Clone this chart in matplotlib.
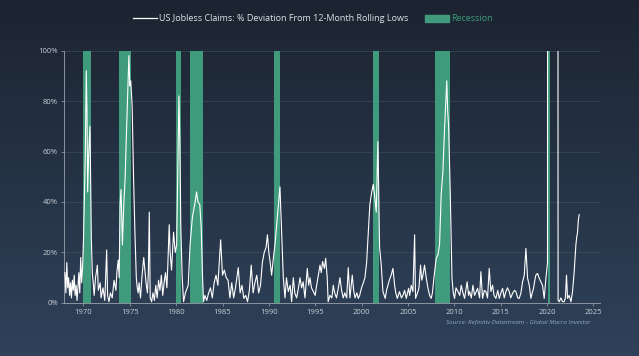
import numpy as np
import matplotlib.pyplot as plt
from matplotlib.colors import LinearSegmentedColormap
from matplotlib.lines import Line2D
from matplotlib.patches import Patch
from matplotlib.ticker import FuncFormatter

# claims deviation from 12m rolling low, %
years = [
    1968.0, 1968.1, 1968.2, 1968.3, 1968.4, 1968.5, 1968.6, 1968.7, 1968.8, 1968.9,
    1969.0, 1969.1, 1969.2, 1969.3, 1969.4, 1969.5, 1969.6, 1969.7, 1969.8, 1969.9,
    1970.0, 1970.1, 1970.2, 1970.3, 1970.38, 1970.45, 1970.55, 1970.7, 1970.78, 1970.85, 1970.95,
    1971.05, 1971.15, 1971.3, 1971.5, 1971.6, 1971.8, 1971.9, 1972.1, 1972.3, 1972.5,
    1972.6, 1972.75, 1972.9, 1973.1, 1973.3, 1973.5, 1973.6, 1973.75, 1973.85,
    1973.95, 1974.05, 1974.2, 1974.35, 1974.5, 1974.6, 1974.75, 1974.9, 1975.0, 1975.1,
    1975.25, 1975.4, 1975.55, 1975.7, 1975.8, 1975.9, 1976.0, 1976.15, 1976.3, 1976.5,
    1976.6, 1976.75, 1976.9, 1977.0, 1977.1, 1977.2, 1977.35, 1977.5, 1977.65, 1977.8,
    1977.95, 1978.1, 1978.25, 1978.4, 1978.55, 1978.7, 1978.85, 1979.0, 1979.1, 1979.25,
    1979.35, 1979.5, 1979.6, 1979.72, 1979.9, 1980.05, 1980.15, 1980.3, 1980.4, 1980.5,
    1980.65, 1980.8, 1981.0, 1981.3, 1981.5, 1981.75, 1982.05, 1982.2, 1982.35, 1982.55,
    1982.7, 1982.85, 1982.95, 1983.1, 1983.3, 1983.5, 1983.7, 1983.9, 1984.1, 1984.3,
    1984.5, 1984.8, 1985.0, 1985.2, 1985.4, 1985.6, 1985.8, 1986.0, 1986.2, 1986.4,
    1986.7, 1986.9, 1987.1, 1987.3, 1987.5, 1987.7, 1987.9, 1988.1, 1988.3, 1988.5,
    1988.7, 1988.9, 1989.1, 1989.3, 1989.5, 1989.7, 1989.85, 1990.0, 1990.15, 1990.3,
    1990.5, 1990.66, 1990.9, 1991.2, 1991.38, 1991.56, 1991.74, 1991.9, 1992.1, 1992.3,
    1992.46, 1992.64, 1992.8, 1993.0, 1993.2, 1993.36, 1993.54, 1993.7, 1993.9, 1994.15,
    1994.3, 1994.44, 1994.6, 1994.8, 1995.0, 1995.16, 1995.34, 1995.52, 1995.65, 1995.8,
    1996.0, 1996.13, 1996.3, 1996.4, 1996.6, 1996.8, 1996.95, 1997.1, 1997.3, 1997.5,
    1997.67, 1997.85, 1998.03, 1998.2, 1998.4, 1998.57, 1998.75, 1999.0, 1999.15, 1999.3,
    1999.5, 1999.65, 1999.8, 2000.0, 2000.2, 2000.37, 2000.55, 2000.73, 2000.9, 2001.1,
    2001.27, 2001.4, 2001.59, 2001.77, 2001.95, 2002.13, 2002.31, 2002.45, 2002.56, 2002.7,
    2002.85, 2003.0, 2003.2, 2003.39, 2003.57, 2003.7, 2003.86, 2004.1, 2004.3, 2004.47,
    2004.65, 2004.83, 2005.08, 2005.2, 2005.37, 2005.55, 2005.73, 2005.83, 2006.09, 2006.2,
    2006.37, 2006.5, 2006.63, 2006.8, 2006.99, 2007.17, 2007.35, 2007.52, 2007.65, 2007.81,
    2008.06, 2008.24, 2008.42, 2008.6, 2008.78, 2008.96, 2009.1, 2009.2, 2009.3, 2009.4,
    2009.58, 2009.76, 2009.9, 2010.04, 2010.2, 2010.4, 2010.6, 2010.76, 2010.95, 2011.12,
    2011.25, 2011.4, 2011.55, 2011.66, 2011.85, 2012.02, 2012.2, 2012.38, 2012.52, 2012.74,
    2012.88, 2013.06, 2013.25, 2013.42, 2013.6, 2013.78, 2013.96, 2014.14, 2014.3, 2014.5,
    2014.7, 2014.86, 2015.05, 2015.22, 2015.4, 2015.58, 2015.75, 2015.94, 2016.1, 2016.3,
    2016.5, 2016.66, 2016.85, 2017.02, 2017.2, 2017.38, 2017.56, 2017.74, 2017.92, 2018.1,
    2018.28, 2018.42, 2018.56, 2018.7, 2018.81, 2019.0, 2019.17, 2019.35, 2019.53, 2019.71,
    2019.9, 2020.07, 2020.2, 2020.3, 2020.5, 2020.75, 2021.0, 2021.19, 2021.21, 2021.35,
    2021.5, 2021.7, 2021.87, 2022.0, 2022.12, 2022.23, 2022.4, 2022.6, 2022.77, 2022.95,
    2023.05, 2023.13, 2023.22, 2023.31, 2023.4, 2023.49,
]
values = [
    12, 4, 16, 6, 10, 3, 8, 2, 9, 5,
    11, 3, 7, 1, 6, 12, 4, 18, 8, 14,
    25, 42, 60, 92, 75, 44, 58, 70, 45, 25, 12,
    8, 3, 10, 15, 5, 8, 2, 6, 1, 21,
    3, 0.5, 4, 2, 9, 5, 12, 17, 10,
    39, 45, 23, 39, 50, 63, 80, 98, 86, 88,
    78, 50, 28, 10, 6, 4, 8, 2, 10, 18,
    14, 8, 4, 12, 36, 2, 0.5, 4, 1, 7,
    2, 9, 5, 11, 3, 8, 12, 6, 15, 31,
    20, 13, 20, 28, 20, 23, 47, 82, 63, 30,
    10, 0.5, 4, 7, 23, 34, 40, 44, 40, 39,
    30, 10, 0.5, 3, 1, 4, 6, 2, 8, 11,
    7, 25, 11, 13, 10, 9, 2, 8, 2, 6,
    14, 4, 7, 1.8, 3, 0.5, 5, 15, 4, 8,
    11, 4, 7, 16, 20, 22, 27, 20, 16, 11,
    18, 23, 33, 46, 28, 10, 2, 10, 4.5, 7,
    0.5, 10, 4, 2, 6, 10, 6, 8.4, 2, 13.7,
    7, 10, 6, 4.5, 3, 7, 11, 15, 12, 16.4,
    13.7, 17.7, 10, 0.5, 3, 2, 7, 4, 2, 6,
    10, 5, 2, 4, 2, 14, 2, 11, 5, 2,
    4, 1.8, 3, 6, 8, 10, 16, 28, 39, 44,
    47, 43, 36, 64, 22, 15, 4.5, 3, 1.8, 5,
    7, 9, 11, 13.7, 7, 4, 1.8, 4.5, 2, 3,
    5, 1.8, 5.8, 3, 7, 4.5, 27, 1.8, 4.5, 6,
    15, 9, 11, 15, 9.8, 5.8, 3, 1.8, 4, 9.8,
    17.7, 19, 23, 43, 52, 69, 80, 88, 76, 70,
    43, 9.8, 4, 1.8, 6, 4.5, 3, 7, 4, 1.8,
    5, 8.4, 3, 4.5, 2, 7, 3, 4.5, 5.8, 2,
    12.4, 1.8, 5, 4.5, 2, 13.7, 4.5, 7, 3, 1.8,
    5, 1.8, 4, 5.8, 2, 4.5, 6, 4.5, 2, 3.8,
    5, 4.5, 2, 1.8, 4, 8.4, 11, 21.6, 9.8, 7,
    1.8, 4, 5.8, 9, 11, 11.7, 9.8, 8.4, 7, 1.8,
    9.8, 16, 2800, 1500, 700, 400, 300, 250, 1, 0.5,
    2, 0.5, 0.5, 2, 11, 1.8, 3, 0.5, 4.5, 12.4,
    18, 23, 26, 28, 33, 35,
]

# NBER recessions (start, end)
rec_start = [1969.9, 1973.85, 1980.0, 1981.5, 1990.55, 2001.2, 2007.95, 2020.15]
rec_end = [1970.85, 1975.15, 1980.5, 1982.85, 1991.2, 2001.85, 2009.5, 2020.35]

yticks = [0, 20, 40, 60, 80, 100]
xticks = [1970, 1975, 1980, 1985, 1990, 1995, 2000, 2005, 2010, 2015, 2020, 2025]

green = '#3f9b7b'
txt = '#c9ced6'

plt.rcParams['font.family'] = ['Open Sans', 'DejaVu Sans']

fig = plt.figure(figsize=(6.39, 3.56), dpi=100)

# gradient background
bg = fig.add_axes([0, 0, 1, 1], zorder=0)
cmap = LinearSegmentedColormap.from_list('bg', ['#1c2431', '#2f425a'])
bg.imshow(np.linspace(0, 1, 256).reshape(-1, 1), aspect='auto', cmap=cmap,
          extent=[0, 1, 0, 1])
bg.axis('off')

ax = fig.add_axes([0.1002, 0.149, 0.839, 0.709], zorder=1)
ax.set_facecolor('none')

for s, e in zip(rec_start, rec_end):
    ax.axvspan(s, e, color=green, lw=0, zorder=1)

ax.plot(years, np.array(values) / 100, color='white', lw=0.8, zorder=3)

ax.set_xlim(1967.9, 2025.75)
ax.set_ylim(0, 1)
ax.set_yticks([v / 100 for v in yticks])
ax.yaxis.set_major_formatter(FuncFormatter(lambda v, p: f'{v * 100:.0f}%'))
ax.set_xticks(xticks)
ax.grid(axis='y', color='#485566', lw=0.5, alpha=0.7)
ax.set_axisbelow(True)
for side in ['top', 'right']:
    ax.spines[side].set_visible(False)
for side in ['left', 'bottom']:
    ax.spines[side].set_color('#9aa3ae')
    ax.spines[side].set_linewidth(0.6)
ax.tick_params(colors='#9aa3ae', labelcolor=txt, labelsize=5.5, length=2.5, width=0.5, pad=2)

handles = [Line2D([], [], color='white', lw=0.9), Patch(color=green)]
leg = fig.legend(handles, ['US Jobless Claims: % Deviation From 12-Month Rolling Lows', 'Recession'],
                 loc='center', bbox_to_anchor=(0.49, 0.947), ncol=2, frameon=False,
                 fontsize=6.5, handlelength=2.6, handleheight=0.9, columnspacing=1.8,
                 handletextpad=0.3)
leg.get_texts()[0].set_color('#dfe3e8')
leg.get_texts()[1].set_color(green)

fig.text(0.925, 0.094, 'Source: Refinitiv Datastream - Global Macro Investor', ha='right', va='center',
         fontsize=4.5, style='italic', color='#8fa8c4')

fig.savefig('out.png', dpi=100)
